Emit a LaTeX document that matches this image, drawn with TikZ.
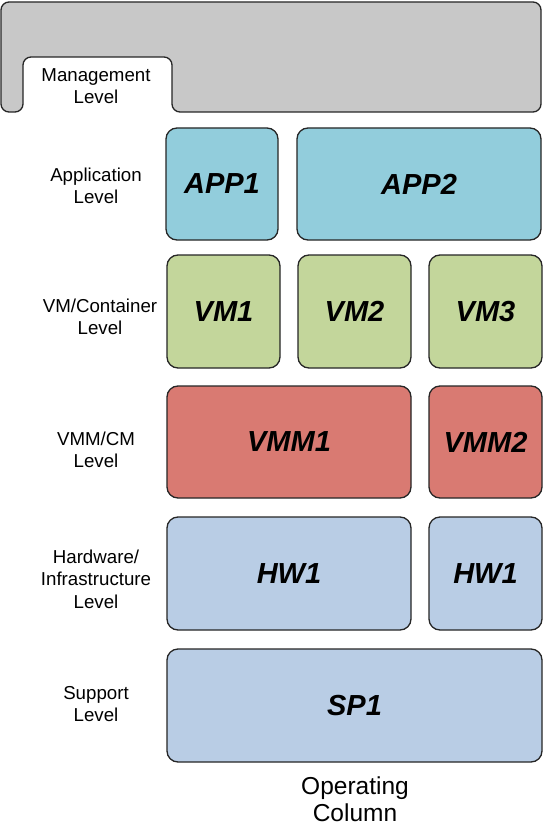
\documentclass[tikz,border=0pt]{standalone}
\usepackage{fontspec}
\setmainfont{Liberation Sans}
\definecolor{mgmtgray}{HTML}{C8C8C8}
\definecolor{appblue}{HTML}{92CDDC}
\definecolor{vmgreen}{HTML}{C3D69B}
\definecolor{vmmred}{HTML}{D97A72}
\definecolor{hwblue}{HTML}{B9CDE5}
\definecolor{edge}{HTML}{262626}
\tikzset{
  box/.style={draw=edge, line width=1.3pt, rounded corners=11pt, inner sep=0pt,
    font=\fontsize{29}{33}\selectfont\bfseries\itshape},
  lvl/.style={align=center, inner sep=0pt, font=\fontsize{18.7}{22.5}\selectfont},
}
\begin{document}
\begin{tikzpicture}[x=1pt,y=-1pt]
\useasboundingbox[fill=white] (0,0) rectangle (547,840);
% management shape
\draw[draw=edge, fill=mgmtgray, line width=1.3pt, rounded corners=8pt]
  (1,2) -- (541,2) -- (541,112) -- (172,112) -- (172,57) -- (23,57) -- (23,112) -- (1,112) -- cycle;
\node[lvl] (lmgmt) at (96,86) {Management\\Level};
\node[lvl] (lapp) at (96,186) {Application\\Level};
\node[lvl] (lvm) at (100,317) {VM/Container\\Level};
\node[lvl] (lvmm) at (96,450) {VMM/CM\\Level};
\node[lvl] (lhw) at (96,579) {Hardware/\\Infrastructure\\Level};
\node[lvl] (lsp) at (96,704) {Support\\Level};
% boxes
\node[box, fill=appblue, minimum width=112pt, minimum height=112pt] (app1) at (222,184) {APP1};
\node[box, fill=appblue, minimum width=244pt, minimum height=112pt] (app2) at (419,184) {APP2};
\node[box, fill=vmgreen, minimum width=113pt, minimum height=113pt] (vm1) at (223.5,311.5) {VM1};
\node[box, fill=vmgreen, minimum width=113pt, minimum height=113pt] (vm2) at (354.5,311.5) {VM2};
\node[box, fill=vmgreen, minimum width=113pt, minimum height=113pt] (vm3) at (485.5,311.5) {VM3};
\node[box, fill=vmmred, minimum width=244pt, minimum height=112pt] (vmm1) at (289,442) {VMM1};
\node[box, fill=vmmred, minimum width=113pt, minimum height=112pt] (vmm2) at (485.5,442) {VMM2};
\node[box, fill=hwblue, minimum width=244pt, minimum height=113pt] (hw1a) at (289,573.5) {HW1};
\node[box, fill=hwblue, minimum width=113pt, minimum height=113pt] (hw1b) at (485.5,573.5) {HW1};
\node[box, fill=hwblue, minimum width=375pt, minimum height=113pt] (sp1) at (354.5,705.5) {SP1};
\node[lvl, font=\fontsize{24.5}{26.5}\selectfont] (opcol) at (355,799) {Operating\\Column};
\end{tikzpicture}
\end{document}
